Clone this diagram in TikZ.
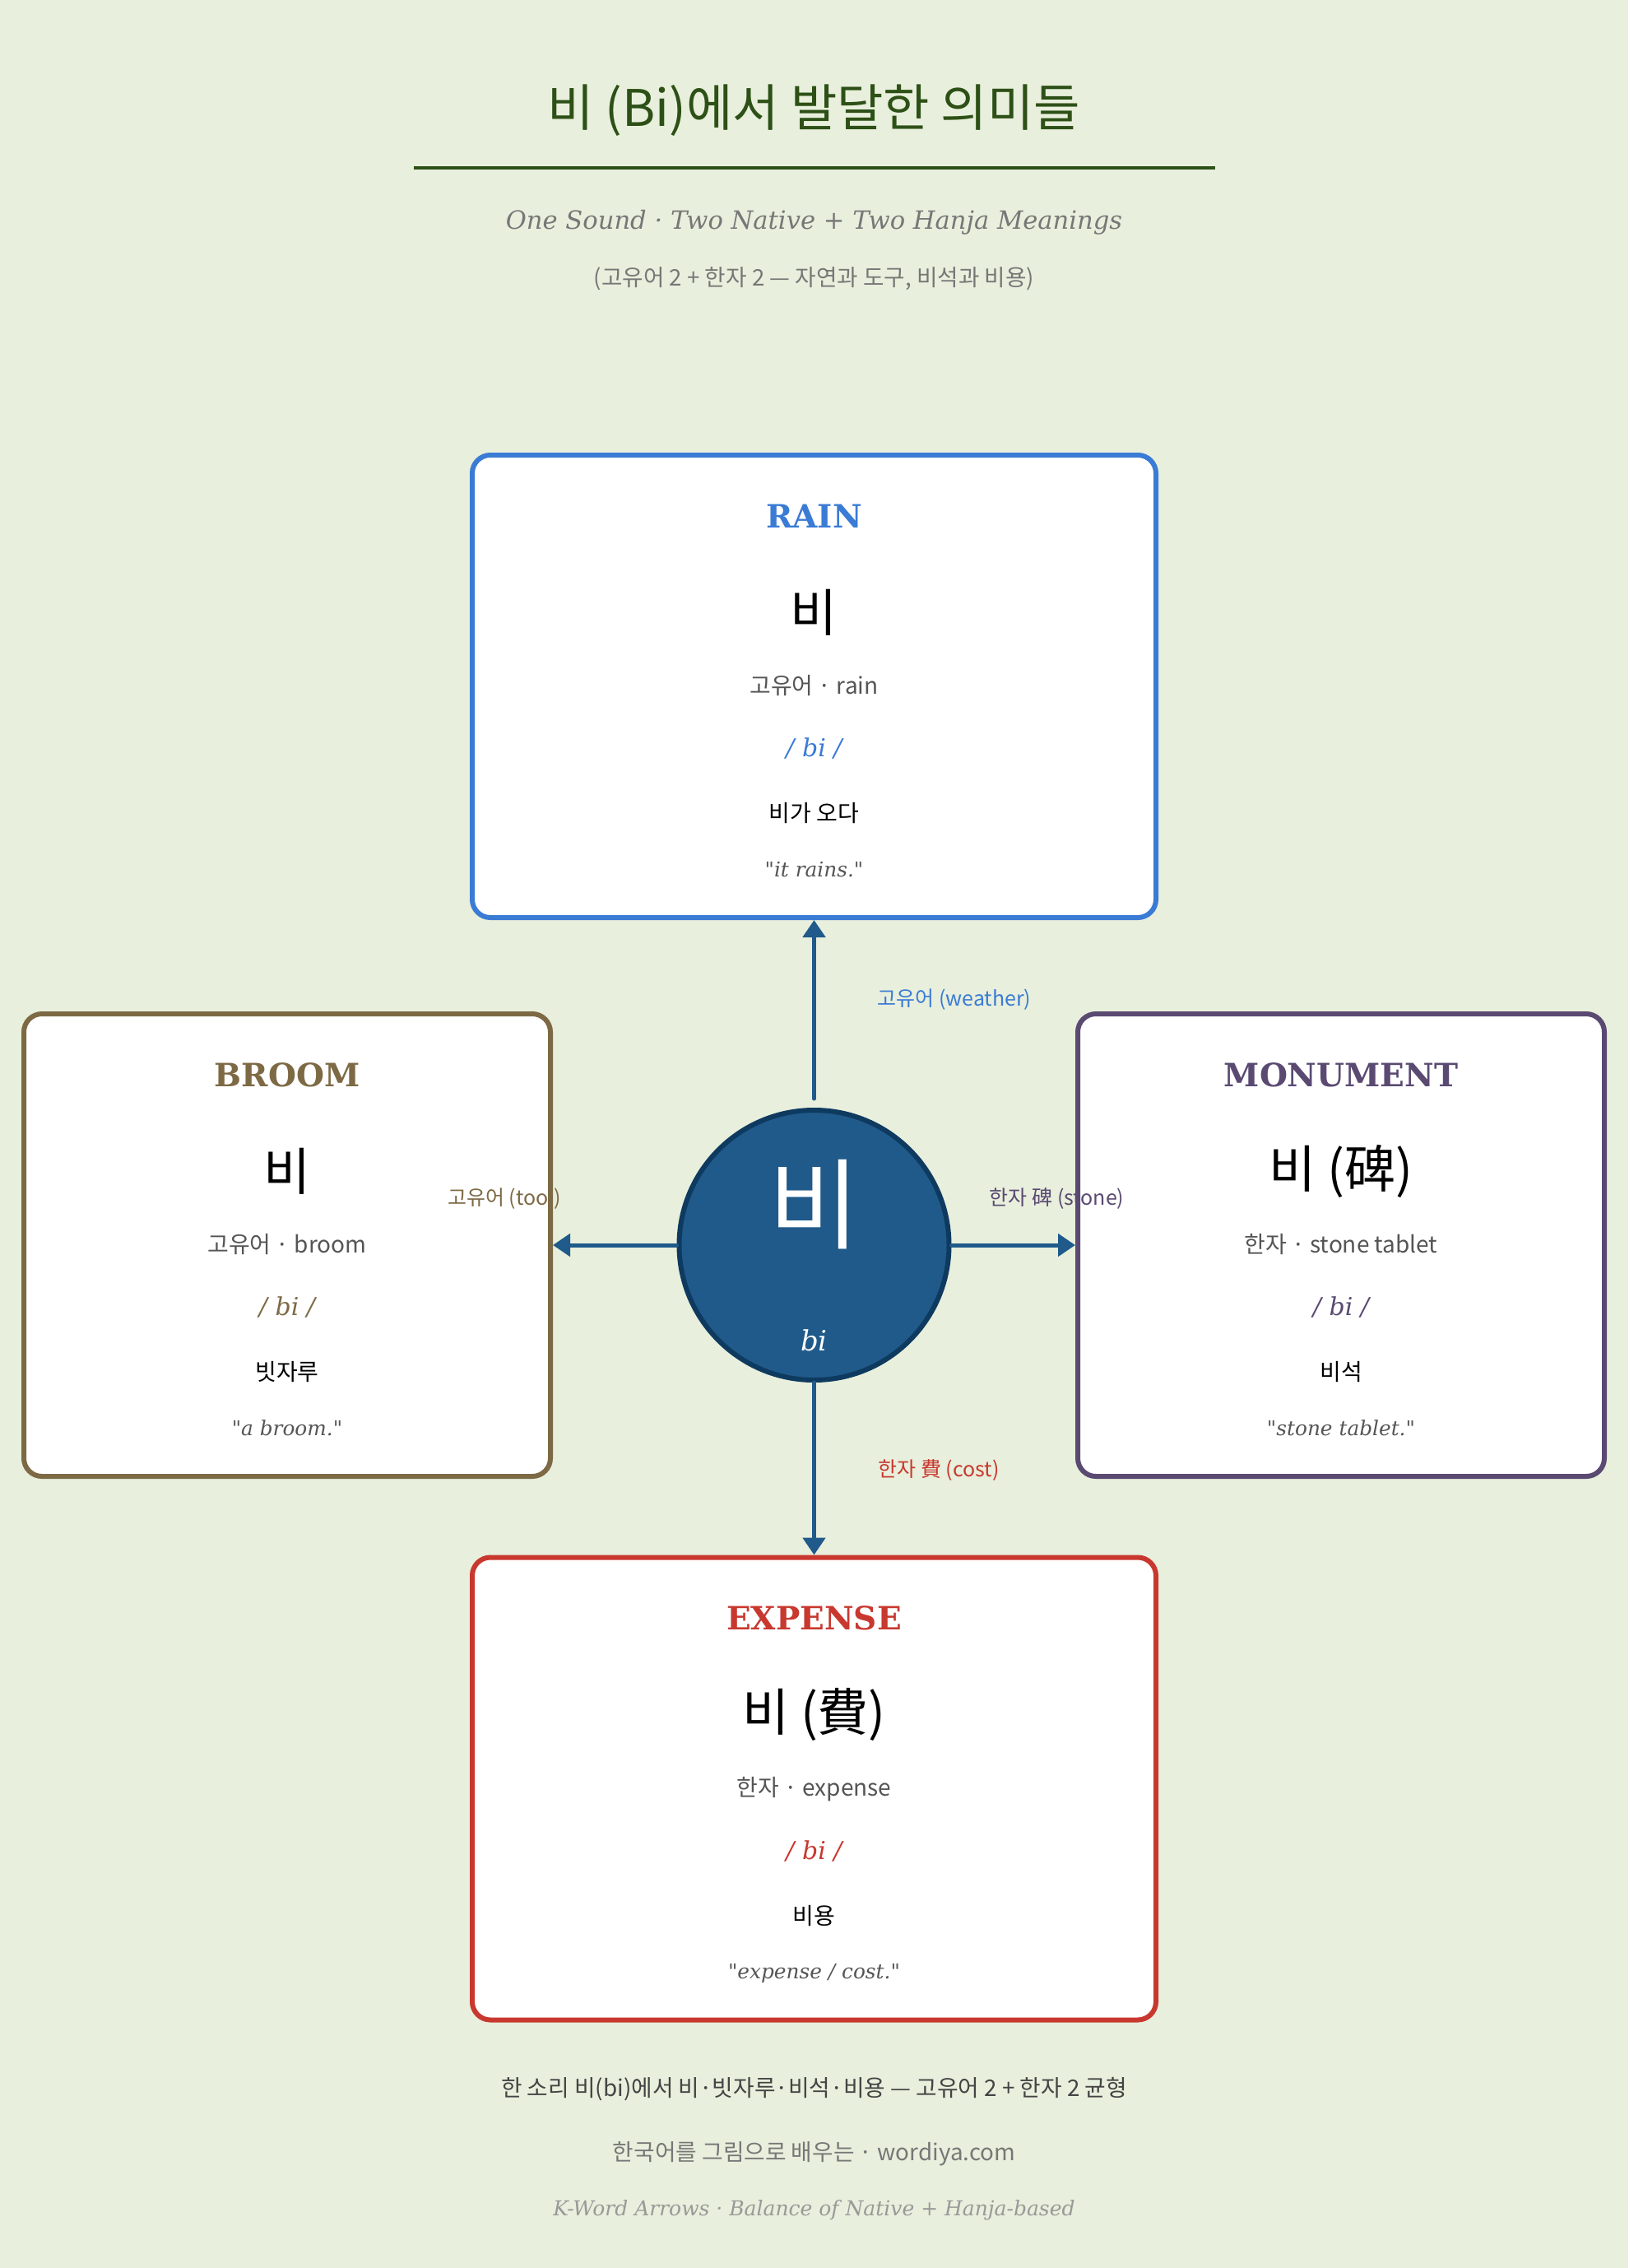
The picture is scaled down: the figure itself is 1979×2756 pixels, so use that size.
\documentclass[tikz,border=0pt]{standalone}
\usepackage{fontspec}
\usetikzlibrary{arrows.meta}
\newfontfamily\kr{Noto Sans CJK KR}
\newfontfamily\srf{DejaVu Serif}
\newcommand\fsz[1]{\fontsize{#1}{#1}\selectfont}
\definecolor{bgc}{HTML}{E8EFDC}
\definecolor{titlec}{HTML}{2D5016}
\definecolor{rainc}{HTML}{3A7BD5}
\definecolor{broomc}{HTML}{7D6A45}
\definecolor{monc}{HTML}{5A4A72}
\definecolor{expc}{HTML}{C8382F}
\definecolor{circfill}{HTML}{1F5A8A}
\definecolor{circline}{HTML}{0F3A60}
\definecolor{graytxt}{HTML}{555555}
\definecolor{subtxt}{HTML}{777777}
\definecolor{foot1}{HTML}{444444}
\definecolor{foot3}{HTML}{999999}
\tikzset{
  box/.style={draw=#1, line width=6pt, fill=white, rounded corners=22pt,
    minimum height=562pt, inner sep=0pt},
  boxtitle/.style={font=\srf\bfseries\fsz{39}, inner sep=0pt},
  bigtxt/.style={font=\kr\fsz{62}, text=black, inner sep=0pt},
  typetxt/.style={font=\kr\fsz{28}, text=graytxt, inner sep=0pt},
  prontxt/.style={font=\srf\itshape\fsz{30}, inner sep=0pt},
  extxt/.style={font=\kr\fsz{28}, text=black, inner sep=0pt},
  trtxt/.style={font=\srf\itshape\fsz{24.8}, text=graytxt, inner sep=0pt},
  elabel/.style={font=\kr\fsz{25}, inner sep=0pt},
  arr/.style={draw=circfill, line width=5pt, line cap=round,
    -{Triangle[length=21pt,width=27pt]}},
}
\newcommand\mkbox[9]{%
  \node[box=#2, minimum width=#4] (#1) at (#3) {};
  \node[boxtitle, text=#2, anchor=base] (#1-t) at ([yshift=-91pt]#1.north) {#5};
  \node[bigtxt] (#1-b) at ([yshift=-194pt]#1.north) {#6};
  \node[typetxt, anchor=base] (#1-y) at ([yshift=-293pt]#1.north) {#7};
  \node[prontxt, text=#2, anchor=base] (#1-p) at ([yshift=-369.5pt]#1.north) {/ bi /};
  \node[extxt] (#1-e) at ([yshift=-438pt]#1.north) {#8};
  \node[trtxt, anchor=base] (#1-r) at ([yshift=-515pt]#1.north) {#9};
}
\begin{document}
\begin{tikzpicture}[x=1pt,y=-1pt]
\fill[bgc] (0,0) rectangle (1979,2756);
\useasboundingbox (0,0) rectangle (1979,2756);

% header
\node[font=\kr\fsz{61.3}, text=titlec, inner sep=0pt] (title) at (989.5,134) {비 (Bi)에서 발달한 의미들};
\coordinate (rl) at (503,204);
\coordinate (rr) at (1477,204);
\draw[titlec, line width=4pt] (rl) -- (rr);
\node[font=\srf\itshape\fsz{30.6}, text=subtxt, inner sep=0pt] (sub) at (989.5,270) {One Sound · Two Native + Two Hanja Meanings};
\node[font=\kr\fsz{27.7}, text=subtxt, inner sep=0pt] (subkr) at (989.5,339) {(고유어 2 + 한자 2 — 자연과 도구, 비석과 비용)};

% boxes
\mkbox{rain}{rainc}{989.5,834}{831pt}{RAIN}{비}{고유어 · rain}{비가 오다}{"it rains."}
\mkbox{broom}{broomc}{349,1513}{640pt}{BROOM}{비}{고유어 · broom}{빗자루}{"a broom."}
\mkbox{mon}{monc}{1630,1513}{640pt}{MONUMENT}{비 (碑)}{한자 · stone tablet}{비석}{"stone tablet."}
\mkbox{exp}{expc}{989.5,2173.5}{831pt}{EXPENSE}{비 (費)}{한자 · expense}{비용}{"expense / cost."}

% edge labels
\node[elabel, text=rainc] (lw) at (1160,1214.5) {고유어 (weather)};
\node[elabel, text=broomc] (lt) at (613,1456.5) {고유어 (tool)};
\node[elabel, text=monc] (ls) at (1284.6,1456.5) {한자 碑 (stone)};
\node[elabel, text=expc] (lc) at (1141,1786) {한자 費 (cost)};

% centre
\node[circle, draw=circline, fill=circfill, line width=6pt, minimum size=328pt, inner sep=0pt] (c) at (989.5,1513) {};
\node[font=\kr\fsz{120}, text=white, inner sep=0pt] (cb) at (989.5,1464) {비};
\node[font=\srf\itshape\fsz{34}, text=white, inner sep=0pt, anchor=base] (ci) at (989.5,1641) {bi};

% arrows
\draw[arr] ([yshift=11pt]c.north) -- (rain.south);
\draw[arr] (c.south) -- (exp.north);
\draw[arr] (c.west) -- (broom.east);
\draw[arr] (c.east) -- (mon.west);

% footer
\node[font=\kr\fsz{27.8}, text=foot1, inner sep=0pt] (f1) at (989.5,2539) {한 소리 비(bi)에서 비·빗자루·비석·비용 — 고유어 2 + 한자 2 균형};
\node[font=\kr\fsz{27.8}, text=subtxt, inner sep=0pt] (f2) at (989.5,2617) {한국어를 그림으로 배우는 · wordiya.com};
\node[font=\srf\itshape\fsz{25}, text=foot3, inner sep=0pt] (f3) at (989.5,2686) {K-Word Arrows · Balance of Native + Hanja-based};
\end{tikzpicture}
\end{document}
